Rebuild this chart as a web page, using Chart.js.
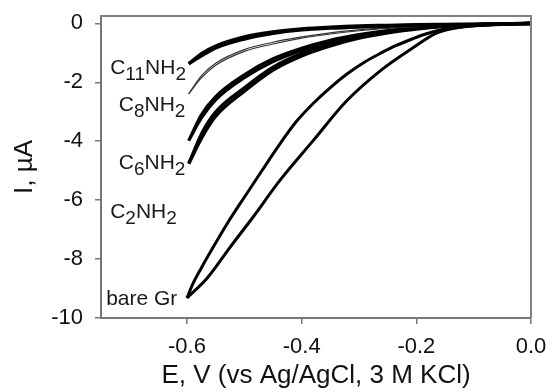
<!DOCTYPE html>
<html>
<head>
<meta charset="utf-8">
<script src="https://cdn.jsdelivr.net/npm/chart.js@4"></script>
<style>
  html, body { margin: 0; padding: 0; background: #fff; }
  #wrap { width: 552px; height: 392px; position: relative; }
</style>
</head>
<body>
<div id="wrap"><canvas id="cv"></canvas></div>
<script>
// potential grid (V vs Ag/AgCl) shared by the SAM-modified electrodes
const samE = [-0.597, -0.575, -0.55, -0.5, -0.45, -0.4, -0.35, -0.3, -0.25, -0.2, -0.15, -0.1, -0.05, 0];

// currents (uA): cathodic sweep and return sweep of each loop
const c11Fwd = [-1.37, -1.10, -0.83, -0.53, -0.34, -0.22, -0.16, -0.12, -0.09, -0.07, -0.05, -0.04, -0.03, -0.02];
const c11Rev = [-1.37, -1.02, -0.76, -0.45, -0.28, -0.18, -0.12, -0.08, -0.06, -0.04, -0.03, -0.02, -0.01, 0];
const c8Fwd = [-2.39, -1.85, -1.42, -0.95, -0.70, -0.50, -0.36, -0.25, -0.17, -0.11, -0.07, -0.04, -0.02, 0];
const c8Rev = [-2.39, -1.78, -1.35, -0.89, -0.64, -0.46, -0.32, -0.22, -0.14, -0.09, -0.05, -0.03, -0.01, 0];
const c6Fwd = [-3.98, -3.22, -2.60, -1.85, -1.30, -0.92, -0.64, -0.43, -0.28, -0.17, -0.10, -0.05, -0.02, 0];
const c6Rev = [-3.98, -3.10, -2.48, -1.74, -1.20, -0.84, -0.57, -0.38, -0.24, -0.14, -0.08, -0.04, -0.01, 0];
const c2Fwd = [-4.76, -3.90, -3.15, -2.30, -1.58, -1.10, -0.76, -0.50, -0.32, -0.19, -0.10, -0.05, -0.02, 0];
const c2Rev = [-4.76, -3.75, -3.00, -2.18, -1.48, -1.02, -0.70, -0.46, -0.29, -0.17, -0.09, -0.04, -0.01, 0];

// bare graphene loop, two branches
const bareUpE = [-0.600, -0.590, -0.575, -0.555, -0.530, -0.500, -0.470, -0.440, -0.410, -0.380, -0.350, -0.321, -0.290, -0.263, -0.235, -0.206, -0.185, -0.164, -0.13, -0.10, -0.05, 0];
const bareUpI = [-9.32, -8.85, -8.30, -7.62, -6.80, -5.90, -5.02, -4.15, -3.35, -2.72, -2.18, -1.72, -1.31, -1.02, -0.75, -0.52, -0.37, -0.25, -0.13, -0.08, -0.03, 0];
const bareLowE = [-0.600, -0.565, -0.525, -0.485, -0.438, -0.380, -0.321, -0.263, -0.206, -0.164, -0.12, -0.05, 0];
const bareLowI = [-9.32, -8.65, -7.60, -6.58, -5.33, -3.98, -2.62, -1.61, -0.83, -0.32, -0.12, -0.03, 0];

const xTicks = [-0.6, -0.4, -0.2, 0.0];
const yTicks = [-10, -8, -6, -4, -2, 0];

// curve labels: text pieces [text, isSubscript], anchored at (E, I)
const curveLabels = [
    { parts: [["C", 0], ["11", 1], ["NH", 0], ["2", 1]], e: -0.734, i: -1.72 },
    { parts: [["C", 0], ["8", 1], ["NH", 0], ["2", 1]], e: -0.719, i: -2.97 },
    { parts: [["C", 0], ["6", 1], ["NH", 0], ["2", 1]], e: -0.719, i: -4.93 },
    { parts: [["C", 0], ["2", 1], ["NH", 0], ["2", 1]], e: -0.734, i: -6.62 },
    { parts: [["bare Gr", 0]], e: -0.741, i: -9.56 }
];

const FONT = "'Liberation Sans', Arial, sans-serif";

function pts(xs, ys) {
    return xs.map((x, k) => ({ x: x, y: ys[k] }));
}

function branch(xs, ys, width, color) {
    return {
        data: pts(xs, ys),
        showLine: true,
        borderColor: color,
        borderWidth: width,
        pointRadius: 0,
        cubicInterpolationMode: 'monotone',
        fill: false
    };
}

const labelPlugin = {
    id: 'labels',
    afterDatasetsDraw(chart) {
        const ctx = chart.ctx;
        const xs = chart.scales.x, ys = chart.scales.y;
        ctx.save();
        ctx.fillStyle = '#1a1a1a';
        ctx.textBaseline = 'alphabetic';
        ctx.textAlign = 'left';
        curveLabels.forEach(lb => {
            let x = xs.getPixelForValue(lb.e);
            const y = ys.getPixelForValue(lb.i);
            lb.parts.forEach(p => {
                ctx.font = (p[1] ? '19px ' : '21px ') + FONT;
                ctx.fillText(p[0], x, p[1] ? y + 6 : y);
                x += ctx.measureText(p[0]).width;
            });
        });
        // frame on top and right
        const a = chart.chartArea;
        ctx.strokeStyle = '#808080';
        ctx.lineWidth = 2;
        ctx.beginPath();
        ctx.moveTo(a.left, a.top);
        ctx.lineTo(a.right, a.top);
        ctx.lineTo(a.right, a.bottom);
        ctx.stroke();
        ctx.restore();
    }
};

new Chart(document.getElementById('cv').getContext('2d'), {
    type: 'scatter',
    data: {
        datasets: [
            branch(samE, c11Fwd, 3.5, '#000'),
            branch(samE, c11Rev, 3, '#000'),
            branch(samE, c8Fwd, 1.2, '#333'),
            branch(samE, c8Rev, 1.2, '#333'),
            branch(samE, c6Fwd, 3, '#000'),
            branch(samE, c6Rev, 3, '#000'),
            branch(samE, c2Fwd, 3.5, '#000'),
            branch(samE, c2Rev, 3, '#000'),
            branch(bareUpE, bareUpI, 3, '#000'),
            branch(bareLowE, bareLowI, 3, '#000')
        ]
    },
    options: {
        responsive: true,
        maintainAspectRatio: false,
        animation: false,
        devicePixelRatio: 1,
        layout: { padding: { top: 16, right: 21, left: 0, bottom: 0 } },
        plugins: { legend: { display: false }, tooltip: { enabled: false } },
        scales: {
            x: {
                type: 'linear',
                min: -0.75,
                max: 0,
                afterBuildTicks: s => { s.ticks = xTicks.map(v => ({ value: v })); },
                afterFit: s => { s.height = 74; s.paddingLeft = 0; s.paddingRight = 0; },
                ticks: {
                    callback: v => v.toFixed(1),
                    font: { size: 22, family: FONT },
                    color: '#111',
                    padding: 10,
                    maxRotation: 0,
                    autoSkip: false
                },
                grid: { drawOnChartArea: false, drawTicks: true, tickLength: 6, color: '#777', lineWidth: 1.5 },
                border: { color: '#777', width: 2 },
                title: {
                    display: true,
                    text: 'E, V (vs Ag/AgCl, 3 M KCl)',
                    font: { size: 26, family: FONT },
                    color: '#111',
                    padding: { top: 0, bottom: 1 }
                }
            },
            y: {
                type: 'linear',
                min: -10,
                max: 0.25,
                afterBuildTicks: s => { s.ticks = yTicks.map(v => ({ value: v })); },
                afterFit: s => { s.width = 101; s.paddingTop = 0; s.paddingBottom = 0; },
                ticks: {
                    callback: v => String(v),
                    font: { size: 22, family: FONT },
                    color: '#111',
                    padding: 12
                },
                grid: { drawOnChartArea: false, drawTicks: true, tickLength: 6, color: '#777', lineWidth: 1.5 },
                border: { color: '#777', width: 2 },
                title: {
                    display: true,
                    text: 'I, µA',
                    font: { size: 26, family: FONT },
                    color: '#111',
                    padding: { top: 9, bottom: 0 }
                }
            }
        }
    },
    plugins: [labelPlugin]
});
</script>
</body>
</html>
